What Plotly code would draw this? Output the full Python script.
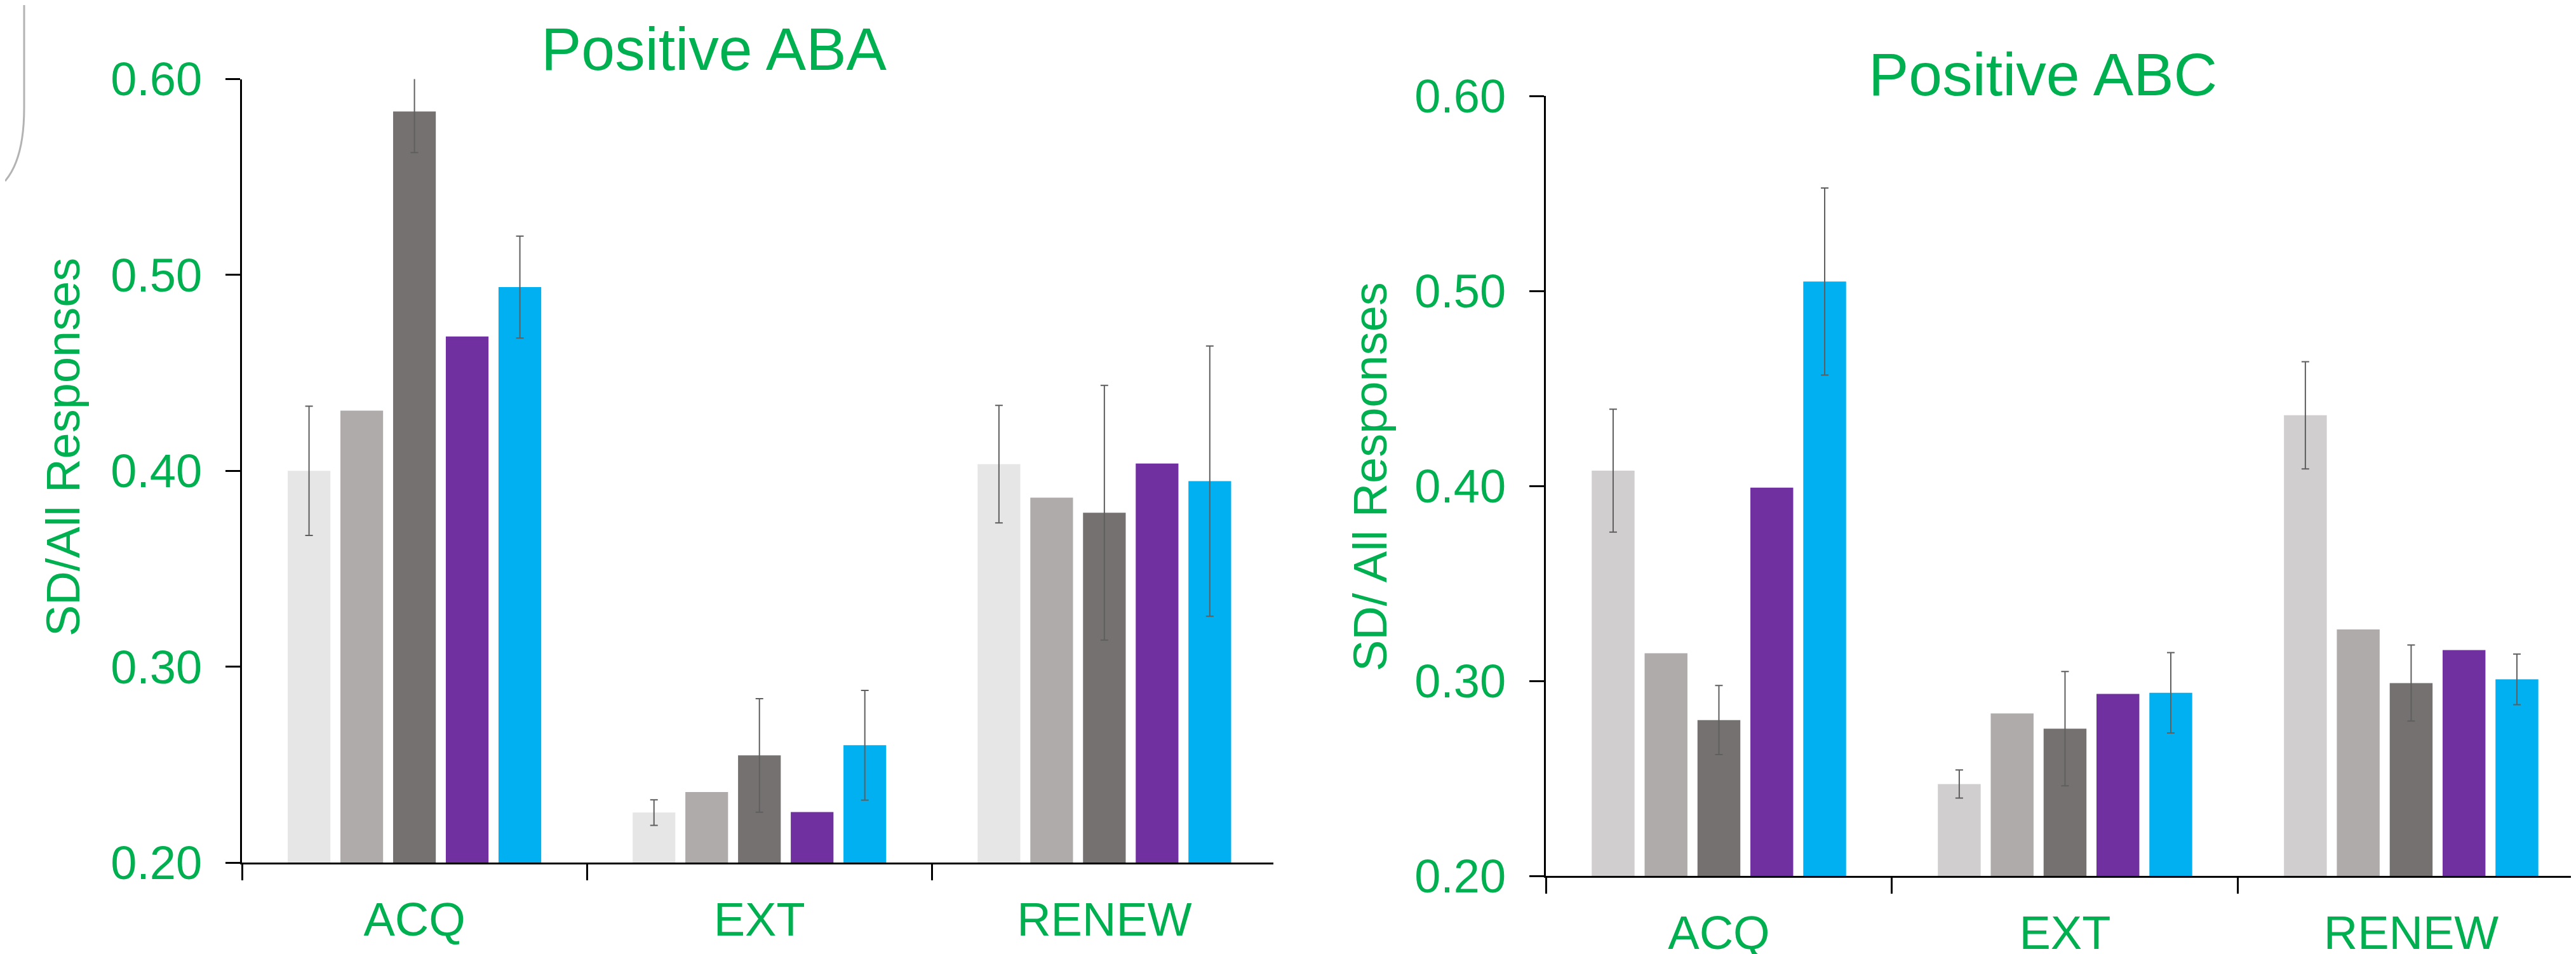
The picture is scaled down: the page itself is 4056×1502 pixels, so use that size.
import plotly.graph_objects as go

W, H = 4056, 1502
OFF = 8  # page body margin in the browser

categories = ["ACQ", "EXT", "RENEW"]
series_names = ["Group 1", "Group 2", "Group 3", "Group 4", "Group 5"]

# Positive ABA (left)
aba_values = [
    [0.400, 0.2255, 0.4034],
    [0.4307, 0.2360, 0.3863],
    [0.5835, 0.2547, 0.3786],
    [0.4686, 0.2258, 0.4037],
    [0.4938, 0.2599, 0.3947],
]
aba_errors = [
    [0.033, 0.0065, 0.030],
    None,
    [0.021, 0.029, 0.065],
    None,
    [0.026, 0.028, 0.069],
]

# Positive ABC (right)
abc_values = [
    [0.4078, 0.2471, 0.4362],
    [0.3142, 0.2833, 0.3264],
    [0.2799, 0.2755, 0.2989],
    [0.3991, 0.2933, 0.3158],
    [0.5048, 0.2939, 0.3008],
]
abc_errors = [
    [0.0315, 0.0072, 0.0275],
    None,
    [0.0177, 0.0293, 0.0195],
    None,
    [0.048, 0.0206, 0.013],
]

y_tickvals = [0.20, 0.30, 0.40, 0.50, 0.60]
y_ticktext = ["0.20", "0.30", "0.40", "0.50", "0.60"]

colors_left = ["#E6E6E6", "#AFABAB", "#767171", "#7030A0", "#00B0F0"]
colors_right = ["#D0CECE", "#AFABAB", "#767171", "#7030A0", "#00B0F0"]

GREEN = "#00B050"
FONT = "Liberation Sans, Arial, sans-serif"

fig = go.Figure()

def add_series(values, errors, colors, xa, ya):
    for name, vals, err, col in zip(series_names, values, errors, colors):
        kw = {}
        if err is not None:
            kw["error_y"] = dict(type="data", array=err, symmetric=True,
                                 color="#5F5F5F", thickness=2, width=6)
        fig.add_trace(go.Bar(x=categories, y=vals, name=name, marker_color=col,
                             marker_line_width=0, xaxis=xa, yaxis=ya,
                             showlegend=False, **kw))

add_series(aba_values, aba_errors, colors_left, "x", "y")
add_series(abc_values, abc_errors, colors_right, "x2", "y2")

def px_x(p):
    return (p - OFF) / W

def px_y(p):
    return 1 - (p - OFF) / H

axis_common = dict(showline=True, linecolor="black", linewidth=3, ticks="outside",
                   tickcolor="black", tickwidth=3, showgrid=False, zeroline=False,
                   automargin=False,
                   tickfont=dict(family=FONT, size=74, color=GREEN))

fig.update_layout(
    template="none",
    width=W, height=H,
    margin=dict(l=0, r=0, t=0, b=0, pad=0),
    paper_bgcolor="white", plot_bgcolor="white",
    barmode="group", bargap=0.236, bargroupgap=0.19,
    xaxis=dict(domain=[px_x(381), px_x(2005)], range=[-0.5, 2.49], type="category",
               tickson="boundaries", ticklen=25, ticklabelstandoff=23, anchor="y",
               **axis_common),
    yaxis=dict(domain=[px_y(1358), px_y(124.5)], range=[0.20, 0.60],
               tickvals=y_tickvals, ticktext=y_ticktext, ticklen=23,
               ticklabelstandoff=22, anchor="x", **axis_common),
    xaxis2=dict(domain=[px_x(2434), 1.0], range=[-0.5, 2.491], type="category",
                tickson="boundaries", ticklen=25, ticklabelstandoff=23, anchor="y2",
                **axis_common),
    yaxis2=dict(domain=[px_y(1379), px_y(151)], range=[0.20, 0.60],
                tickvals=y_tickvals, ticktext=y_ticktext, ticklen=23,
                ticklabelstandoff=22, anchor="x2", **axis_common),
)

annos = [
    dict(text="Positive ABA", x=px_x(1124), y=px_y(77), size=95, angle=0),
    dict(text="Positive ABC", x=px_x(3216), y=px_y(117), size=95, angle=0),
    dict(text="SD/All Responses", x=px_x(99), y=px_y(704), size=74, angle=-90),
    dict(text="SD/ All Responses", x=px_x(2157), y=px_y(751), size=74, angle=-90),
]
for a in annos:
    fig.add_annotation(text=a["text"], x=a["x"], y=a["y"], xref="paper", yref="paper",
                       xanchor="center", yanchor="middle", showarrow=False,
                       textangle=a["angle"],
                       font=dict(family=FONT, size=a["size"], color=GREEN))

# fragment of a slide element at the top-left corner
fig.add_shape(type="path", xref="paper", yref="paper",
              path=f"M {px_x(38)},1 L {px_x(38)},{px_y(170)} Q {px_x(38)},{px_y(250)} {px_x(8)},{px_y(285)}",
              line=dict(color="#B3B3B3", width=3))

fig.write_html("out.html")
